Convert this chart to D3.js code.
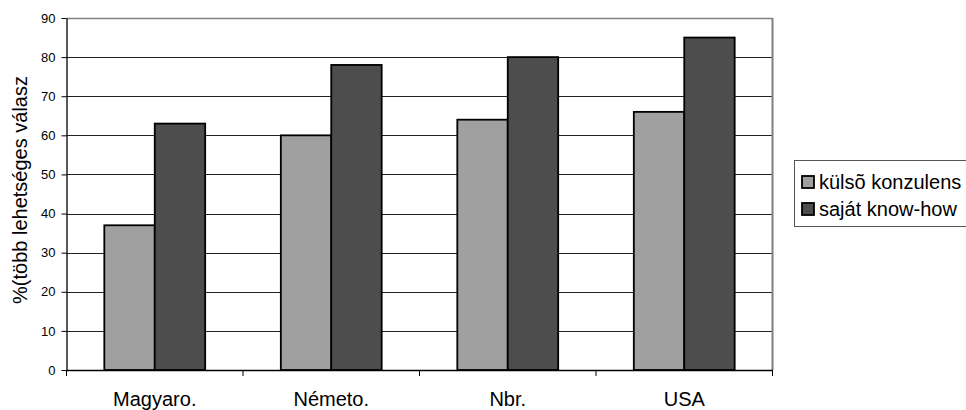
<!DOCTYPE html>
<html>
<head>
<meta charset="utf-8">
<script src="https://cdn.jsdelivr.net/npm/d3@7"></script>
<style>
  html, body { margin: 0; padding: 0; background: #fff; }
  svg { display: block; font-family: "Liberation Sans", Arial, sans-serif; }
</style>
</head>
<body>
<svg id="chart" width="966" height="410"></svg>
<script>
// Countries on the x axis
const categories = ["Magyaro.", "Németo.", "Nbr.", "USA"];
// Series names and values (%)
const seriesNames = ["külsõ konzulens", "saját know-how"];
const kulsoKonzulens = [37, 60, 64, 66];
const sajatKnowHow = [63, 78, 80, 85];
// Y axis ticks
const yTicks = [0, 10, 20, 30, 40, 50, 60, 70, 80, 90];
const yTitle = "%(több lehetséges válasz";

const seriesValues = [kulsoKonzulens, sajatKnowHow];
const colors = ["#a0a0a0", "#4d4d4d"];
const FONT = "Liberation Sans, Arial, sans-serif";

const svg = d3.select("#chart");
const plot = { left: 66.5, top: 18, right: 772.5, bottom: 370 };

const x = d3.scaleBand().domain(categories).range([plot.left, plot.right]).paddingInner(0).paddingOuter(0);
const y = d3.scaleLinear().domain([0, 90]).range([plot.bottom, plot.top]);

// Gap width 150%: each bar is band / 3.5
const barW = x.bandwidth() / 3.5;

// Gridlines
svg.append("g").selectAll("line").data(yTicks.filter(d => d > 0)).join("line")
  .attr("x1", plot.left).attr("x2", plot.right)
  .attr("y1", d => Math.round(y(d)) + 0.5).attr("y2", d => Math.round(y(d)) + 0.5)
  .attr("stroke", d => d === 90 ? "#808080" : "#222").attr("stroke-width", d => d === 90 ? 1.6 : 1);

// Plot frame right edge
svg.append("line")
  .attr("x1", plot.right).attr("x2", plot.right)
  .attr("y1", plot.top).attr("y2", plot.bottom)
  .attr("stroke", "#808080").attr("stroke-width", 2);

// Bars
seriesValues.forEach((vals, si) => {
  svg.append("g").selectAll("rect").data(categories).join("rect")
    .attr("x", c => x(c) + barW * 0.75 + si * barW)
    .attr("y", (c, i) => y(vals[i]))
    .attr("width", barW)
    .attr("height", (c, i) => y(0) - y(vals[i]))
    .attr("fill", colors[si])
    .attr("stroke", "#000").attr("stroke-width", 1.8);
});

// Y axis
const yAxis = d3.axisLeft(y).tickValues(yTicks).tickSize(5).tickPadding(6).tickSizeOuter(0);
const gy = svg.append("g").attr("transform", `translate(${plot.left},0)`).call(yAxis);
gy.select(".domain").attr("stroke", "#000").attr("stroke-width", 1.3);
gy.selectAll(".tick line").attr("stroke", "#000");
gy.selectAll(".tick text").attr("font-size", 13).attr("fill", "#000").attr("font-family", FONT);

// X axis with ticks at category boundaries
const xAxis = d3.axisBottom(x).tickSize(0).tickSizeOuter(0).tickPadding(0);
const gx = svg.append("g").attr("transform", `translate(0,${plot.bottom})`).call(xAxis);
gx.select(".domain").attr("stroke", "#000").attr("stroke-width", 1.3);
gx.selectAll(".tick text").attr("font-size", 20).attr("fill", "#000").attr("font-family", FONT)
  .attr("y", 36).attr("dy", 0);
const bounds = categories.map(c => x(c)).concat([plot.right]);
svg.append("g").selectAll("line").data(bounds).join("line")
  .attr("x1", d => d).attr("x2", d => d)
  .attr("y1", plot.bottom).attr("y2", plot.bottom + 6)
  .attr("stroke", "#000").attr("stroke-width", 1);

// Y axis title
svg.append("text")
  .attr("transform", `translate(27,${(plot.top + plot.bottom) / 2 - 4}) rotate(-90)`)
  .attr("text-anchor", "middle")
  .attr("font-size", 20)
  .text(yTitle);

// Legend
const leg = svg.append("g");
leg.append("rect").attr("x", 794.5).attr("y", 160.5).attr("width", 180).attr("height", 66)
  .attr("fill", "#fff").attr("stroke", "#555").attr("stroke-width", 1);
seriesNames.forEach((name, i) => {
  const cy = 182 + i * 27;
  leg.append("rect").attr("x", 802).attr("y", cy - 6).attr("width", 12).attr("height", 12)
    .attr("fill", colors[i]).attr("stroke", "#000").attr("stroke-width", 1.8);
  leg.append("text").attr("x", 819).attr("y", cy + 7).attr("font-size", 20).text(name);
});
</script>
</body>
</html>
